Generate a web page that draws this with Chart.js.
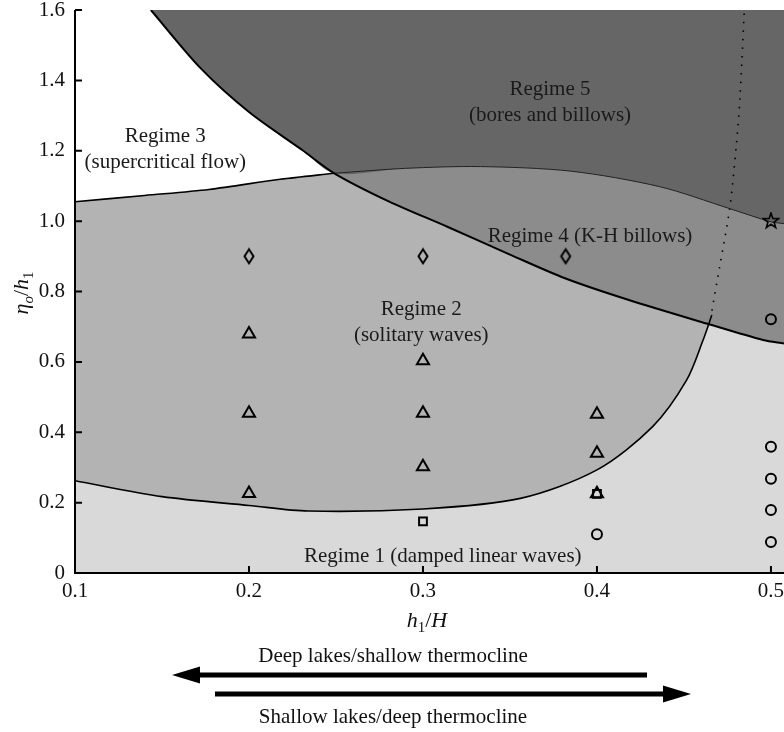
<!DOCTYPE html>
<html>
<head>
<meta charset="utf-8">
<script src="https://cdn.jsdelivr.net/npm/chart.js@4.4.1/dist/chart.umd.min.js"></script>
<style>
  body { margin: 0; background: #fff; }
  canvas { display: block; }
</style>
</head>
<body>
<canvas id="regimes" width="784" height="732"></canvas>
<script>
// DATA PARTS ([h1/H, eta_o/h1])

var xTicks = [0.1, 0.2, 0.3, 0.4, 0.5];
var yTicks = [0, 0.2, 0.4, 0.6, 0.8, 1.0, 1.2, 1.4, 1.6];

var supercriticalEdge = [[0.1, 1.055], [0.14, 1.073], [0.177, 1.090], [0.218, 1.119], [0.249, 1.136]];
var boresEdge = [[0.1436, 1.6], [0.1723, 1.434], [0.2, 1.31], [0.2306, 1.202], [0.249, 1.136], [0.28, 1.057],
                 [0.314, 0.984], [0.35, 0.905], [0.382, 0.837], [0.417, 0.778], [0.463, 0.709], [0.4955, 0.662], [0.5075, 0.652]];
var billowsEdge = [[0.249, 1.136], [0.29, 1.150], [0.333, 1.155], [0.385, 1.142], [0.436, 1.098], [0.476, 1.036], [0.5, 0.998], [0.5075, 0.993]];
var solitaryEdge = [[0.1, 0.262], [0.15, 0.217], [0.2, 0.192], [0.234, 0.176], [0.3, 0.182], [0.356, 0.212],
                    [0.4, 0.293], [0.432, 0.416], [0.4515, 0.548], [0.461, 0.662], [0.466, 0.733]];
var dottedEdge = [[0.4846, 1.59], [0.4822, 1.35], [0.4802, 1.221], [0.4764, 1.04], [0.4705, 0.87], [0.4658, 0.738]];

var triangleX = [0.2, 0.2, 0.2, 0.3, 0.3, 0.3, 0.4, 0.4, 0.4];
var triangleY = [0.679, 0.454, 0.226, 0.603, 0.454, 0.302, 0.451, 0.340, 0.225];
var diamondX = [0.2, 0.3, 0.382];
var diamondY = [0.9, 0.9, 0.9];
var squareX = [0.3, 0.4];
var squareY = [0.147, 0.225];
var circleX = [0.4, 0.5, 0.5, 0.5, 0.5, 0.5];
var circleY = [0.110, 0.721, 0.359, 0.268, 0.179, 0.088];
var starX = [0.5];
var starY = [1.0];

var regimeText = [
    ['Regime 1 (damped linear waves)'],
    ['Regime 2', '(solitary waves)'],
    ['Regime 3', '(supercritical flow)'],
    ['Regime 4 (K-H billows)'],
    ['Regime 5', '(bores and billows)']
];
var regimeAt = [[0.3114, 0.048], [0.299, 0.712], [0.1519, 1.203], [0.396, 0.956], [0.373, 1.337]];

// HELPERS

var SERIF = '"Liberation Serif", "DejaVu Serif", serif';

function pts(list){
    return list.map(p => ({x: p[0], y: p[1]}));
}

function zipPts(xs, ys){
    return xs.map((x, i) => ({x: x, y: ys[i]}));
}

function starCanvas(){
    var c = document.createElement('canvas');
    c.width = 18;
    c.height = 18;
    var g = c.getContext('2d');
    g.beginPath();
    for (var i = 0; i < 10; i++) {
        var r = i % 2 ? 3.2 : 8;
        var a = -Math.PI / 2 + i * Math.PI / 5;
        g.lineTo(9 + r * Math.cos(a), 9 + r * Math.sin(a));
    }
    g.closePath();
    g.lineWidth = 1.6;
    g.strokeStyle = '#000';
    g.stroke();
    return c;
}

// matlab style diamond, taller than wide
function diamondCanvas(){
    var c = document.createElement('canvas');
    c.width = 14;
    c.height = 18;
    var g = c.getContext('2d');
    g.beginPath();
    g.moveTo(7, 2);
    g.lineTo(11.5, 9);
    g.lineTo(7, 16);
    g.lineTo(2.5, 9);
    g.closePath();
    g.lineWidth = 2;
    g.strokeStyle = '#000';
    g.stroke();
    return c;
}

// draws pieces [text, isSub, italic] centred at x,y
function drawParts(ctx, parts, x, y){
    var big = 22, small = 15;
    var w = 0;
    parts.forEach(p => {
        ctx.font = (p[2] ? 'italic ' : '') + (p[1] ? small : big) + 'px ' + SERIF;
        w += ctx.measureText(p[0]).width;
    });
    var cx = x - w / 2;
    ctx.textAlign = 'left';
    ctx.textBaseline = 'alphabetic';
    parts.forEach(p => {
        ctx.font = (p[2] ? 'italic ' : '') + (p[1] ? small : big) + 'px ' + SERIF;
        ctx.fillText(p[0], cx, y + (p[1] ? 5 : 0));
        cx += ctx.measureText(p[0]).width;
    });
}

function arrow(ctx, x0, x1, y){
    var dir = x1 > x0 ? 1 : -1;
    var head = 28;
    ctx.fillStyle = '#000';
    ctx.fillRect(Math.min(x0, x1 - dir * head), y - 2.5, Math.abs(x1 - dir * head - x0), 5);
    ctx.beginPath();
    ctx.moveTo(x1, y);
    ctx.lineTo(x1 - dir * head, y - 8.5);
    ctx.lineTo(x1 - dir * head, y + 8.5);
    ctx.closePath();
    ctx.fill();
}

var decor = {
    id: 'decor',
    beforeDraw(chart){
        var ctx = chart.ctx, a = chart.chartArea;
        ctx.save();
        ctx.fillStyle = '#d9d9d9';
        ctx.fillRect(a.left, a.top, a.right - a.left, a.bottom - a.top);
        ctx.restore();
    },
    afterDatasetsDraw(chart){
        var ctx = chart.ctx, a = chart.chartArea;
        var xs = chart.scales.x, ys = chart.scales.y;
        ctx.save();
        ctx.fillStyle = '#1a1a1a';
        ctx.font = '21px ' + SERIF;
        ctx.textAlign = 'center';
        ctx.textBaseline = 'middle';
        regimeText.forEach((lines, i) => {
            var px = xs.getPixelForValue(regimeAt[i][0]);
            var py = ys.getPixelForValue(regimeAt[i][1]);
            lines.forEach((t, j) => {
                ctx.fillText(t, px, py + (j - (lines.length - 1) / 2) * 25.5);
            });
        });

        // axes with inward ticks
        ctx.strokeStyle = '#000';
        ctx.lineWidth = 2;
        ctx.beginPath();
        ctx.moveTo(a.left, a.top);
        ctx.lineTo(a.left, a.bottom);
        ctx.lineTo(a.right, a.bottom);
        ctx.stroke();
        ctx.beginPath();
        yTicks.forEach(v => {
            var py = ys.getPixelForValue(v);
            ctx.moveTo(a.left, py);
            ctx.lineTo(a.left + 7, py);
        });
        xTicks.forEach(v => {
            var px = xs.getPixelForValue(v);
            ctx.moveTo(px, a.bottom);
            ctx.lineTo(px, a.bottom - 7);
        });
        ctx.stroke();
        ctx.restore();
    },
    afterDraw(chart){
        var ctx = chart.ctx;
        ctx.save();
        ctx.fillStyle = '#111';
        drawParts(ctx, [['h', false, true], ['1', true, false], ['/', false, false], ['H', false, true]], 427, 627);

        ctx.save();
        ctx.translate(22, 293);
        ctx.rotate(-Math.PI / 2);
        drawParts(ctx, [['\u03b7', false, true], ['o', true, true], ['/', false, false], ['h', false, true], ['1', true, false]], 0, 6);
        ctx.restore();

        ctx.font = '21px ' + SERIF;
        ctx.textAlign = 'center';
        ctx.textBaseline = 'middle';
        ctx.fillText('Deep lakes/shallow thermocline', 393, 656);
        ctx.fillText('Shallow lakes/deep thermocline', 393, 717);
        arrow(ctx, 647, 172, 675);
        arrow(ctx, 215, 691, 694);
        ctx.restore();
    }
};

// DATASETS

var lineBase = { pointRadius: 0, tension: 0.3, borderColor: '#000' };

var markerBase = {
    showLine: false,
    pointBackgroundColor: 'rgba(0,0,0,0)',
    pointBorderColor: '#000',
    pointBorderWidth: 2
};

var datasets = [
    Object.assign({}, markerBase, { label: 'star', data: zipPts(starX, starY), pointStyle: starCanvas() }),
    Object.assign({}, markerBase, { label: 'triangle', data: zipPts(triangleX, triangleY), pointStyle: 'triangle', pointRadius: 7 }),
    Object.assign({}, markerBase, { label: 'square', data: zipPts(squareX, squareY), pointStyle: 'rect', pointRadius: 5.5 }),
    Object.assign({}, markerBase, { label: 'diamond', data: zipPts(diamondX, diamondY), pointStyle: diamondCanvas() }),
    Object.assign({}, markerBase, { label: 'circle', data: zipPts(circleX, circleY), pointStyle: 'circle', pointRadius: 5 }),

    Object.assign({}, lineBase, { label: 'bores edge', data: pts(boresEdge), borderWidth: 2, fill: false }),
    Object.assign({}, lineBase, { label: 'billows edge', data: pts(billowsEdge), borderWidth: 1, borderColor: '#222', fill: false }),
    Object.assign({}, lineBase, { label: 'dotted', data: pts(dottedEdge), borderWidth: 1.6, borderDash: [1.5, 7], fill: false }),

    // regime 5 fill: above upper bores edge then billows edge
    Object.assign({}, lineBase, { label: 'regime 5', borderWidth: 0, fill: 'end', backgroundColor: '#666666',
        data: pts(boresEdge.filter(p => p[0] <= 0.249).concat(billowsEdge.slice(1))) }),
    // regime 4 fill: above lower bores edge
    Object.assign({}, lineBase, { label: 'regime 4', borderWidth: 0, fill: 'end', backgroundColor: '#8c8c8c',
        data: pts(boresEdge.filter(p => p[0] >= 0.249)) }),
    // regime 3 (white) above the supercritical edge
    Object.assign({}, lineBase, { label: 'regime 3', data: pts(supercriticalEdge), borderWidth: 1.6, fill: 'end', backgroundColor: '#ffffff' }),
    // regime 2 above the solitary wave edge
    Object.assign({}, lineBase, { label: 'regime 2', data: pts(solitaryEdge), borderWidth: 1.6, fill: 'end', backgroundColor: '#b3b3b3' })
];

// CHART

var chart = new Chart(document.getElementById('regimes'), {
    type: 'line',
    data: { datasets: datasets },
    plugins: [decor],
    options: {
        responsive: false,
        devicePixelRatio: 1,
        animation: false,
        events: [],
        layout: { autoPadding: false, padding: { top: 10, left: 0, right: 0, bottom: 0 } },
        plugins: {
            legend: { display: false },
            tooltip: { enabled: false },
            filler: { propagate: false, drawTime: 'beforeDatasetsDraw' }
        },
        scales: {
            x: {
                type: 'linear',
                min: 0.1,
                max: 0.5075,
                grid: { display: false, drawTicks: false },
                border: { display: false },
                afterBuildTicks: (s) => { s.ticks = xTicks.map(v => ({ value: v })); },
                afterFit: (s) => { s.height = 159; s.paddingLeft = 0; s.paddingRight = 0; },
                ticks: {
                    autoSkip: false,
                    maxRotation: 0,
                    padding: 6,
                    color: '#111',
                    font: { family: SERIF, size: 21 },
                    callback: (v) => v.toFixed(1)
                }
            },
            y: {
                type: 'linear',
                min: 0,
                max: 1.6,
                grid: { display: false, drawTicks: false },
                border: { display: false },
                afterBuildTicks: (s) => { s.ticks = yTicks.map(v => ({ value: v })); },
                afterFit: (s) => { s.width = 75; s.paddingTop = 0; s.paddingBottom = 0; },
                ticks: {
                    autoSkip: false,
                    padding: 10,
                    color: '#111',
                    font: { family: SERIF, size: 21 },
                    callback: (v) => v === 0 ? '0' : v.toFixed(1)
                }
            }
        }
    }
});
</script>
</body>
</html>
